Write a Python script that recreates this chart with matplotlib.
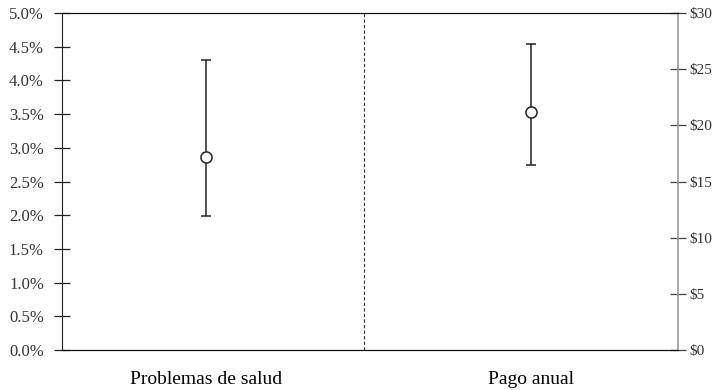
import matplotlib
matplotlib.use("Agg")
from matplotlib import pyplot as plt
import numpy as np

categories = ["Problemas de salud", "Pago anual"]
health_mean = [2.87]
health_low = [1.99]
health_high = [4.31]
pay_mean = [21.2]
pay_low = [16.5]
pay_high = [27.2]
left_ticks = [0.0, 0.5, 1.0, 1.5, 2.0, 2.5, 3.0, 3.5, 4.0, 4.5, 5.0]
right_ticks = [0, 5, 10, 15, 20, 25, 30]

plt.rcParams['font.family'] = ['Liberation Serif', 'DejaVu Serif']

fig = plt.figure(figsize=(7.15, 3.9), dpi=100)
ax = fig.add_axes([62/715, 40/390, 616/715, 337/390])
ax2 = ax.twinx()

err_kw = dict(fmt='o', color='#222222', mfc='white', mec='#222222', ms=8,
              mew=1.1, elinewidth=1.1, capsize=3.5, capthick=2.6)

x0 = np.array([0])
ax.errorbar(x0, health_mean,
            yerr=[np.array(health_mean) - health_low, np.array(health_high) - health_mean],
            zorder=3, **err_kw)
x1 = np.array([1])
ax2.errorbar(x1, pay_mean,
             yerr=[np.array(pay_mean) - pay_low, np.array(pay_high) - pay_mean],
             zorder=3, **err_kw)

ax.set_xlim(-0.443, 1.452)
ax.set_ylim(0, 5)
ax2.set_ylim(0, 30)
ax.axvline(0.487, color='#333333', lw=0.8, ls=(0, (3, 2)))

ax.set_yticks(left_ticks)
ax.set_yticklabels([f"{t:.1f}%" for t in left_ticks])
ax2.set_yticks(right_ticks)
ax2.set_yticklabels([f"${t}" for t in right_ticks])
ax.set_xticks([0, 1])
ax.set_xticklabels(categories, fontsize=14)

ax.tick_params(axis='x', length=0, pad=15)
ax.tick_params(axis='y', direction='inout', length=12, width=0.9, labelsize=12, pad=7,
               colors='#222222', labelcolor='#333333')
ax2.tick_params(axis='y', direction='inout', length=11, width=0.9, labelsize=11, pad=3,
                colors='#444444', labelcolor='#333333')

for a in (ax, ax2):
    a.spines['right'].set_visible(False)
    a.spines['top'].set_color('#111111')
    a.spines['bottom'].set_color('#111111')
    a.spines['left'].set_color('#222222')
ax2.spines['left'].set_visible(False)
ax2.spines['right'].set_visible(True)
ax2.spines['right'].set_color('#999999')
ax2.spines['right'].set_linewidth(1.2)

fig.savefig("out.png", dpi=100)
